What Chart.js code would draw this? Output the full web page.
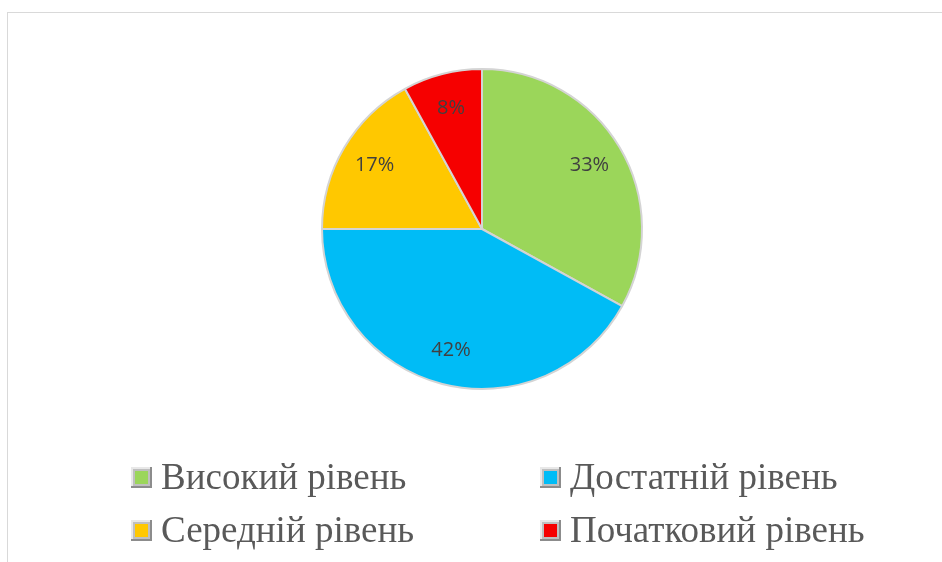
<!DOCTYPE html>
<html>
<head>
<meta charset="utf-8">
<script src="https://cdn.jsdelivr.net/npm/chart.js@4.4.1/dist/chart.umd.min.js"></script>
<style>
  html, body { margin: 0; padding: 0; background: #fff; overflow: hidden; }
  #frame {
    position: absolute; left: 7px; top: 12px; width: 1000px; height: 600px;
    border-left: 1px solid #d9d9d9; border-top: 1px solid #d9d9d9;
  }
  #wrap { position: absolute; left: 0; top: 0; width: 942px; height: 562px; }
</style>
</head>
<body>
<div id="frame"></div>
<div id="wrap"><canvas id="chart"></canvas></div>
<script>
// categories and values
const levels = ['Високий рівень', 'Достатній рівень', 'Середній рівень', 'Початковий рівень'];
const shares = [33, 42, 17, 8];
const sliceColors = ['#9bd65a', '#00bcf6', '#ffc800', '#f60000'];

// percent labels inside the slices
const sliceLabels = {
  id: 'sliceLabels',
  afterDatasetsDraw(chart) {
    const ctx = chart.ctx;
    const meta = chart.getDatasetMeta(0);
    ctx.save();
    ctx.font = '20px "Open Sans"';
    ctx.fillStyle = '#404040';
    ctx.textAlign = 'center';
    ctx.textBaseline = 'middle';
    meta.data.forEach((arc, i) => {
      const p = arc.getProps(['x', 'y', 'startAngle', 'endAngle', 'outerRadius']);
      const mid = (p.startAngle + p.endAngle) / 2;
      const r = p.outerRadius * 0.78;
      ctx.fillText(shares[i] + '%', p.x + Math.cos(mid) * r, p.y + Math.sin(mid) * r);
    });
    ctx.restore();
  },
};

// two column legend under the pie (2 x 2 grid like the original)
const gridLegend = {
  id: 'gridLegend',
  afterDraw(chart) {
    const ctx = chart.ctx;
    const colX = [131, 540];
    const rowY = [489, 542];
    ctx.save();
    ctx.font = '37px "Liberation Serif", "Times New Roman", serif';
    ctx.textBaseline = 'alphabetic';
    ctx.textAlign = 'left';
    levels.forEach((name, i) => {
      const x = colX[i % 2];
      const y = rowY[Math.floor(i / 2)];
      const bx = x, by = y - 22, s = 21;
      // bevelled box
      ctx.fillStyle = '#bfbfbf';
      ctx.fillRect(bx, by, s, s);
      ctx.fillStyle = '#e8e8e8';
      ctx.fillRect(bx, by, s, 2);
      ctx.fillRect(bx, by, 2, s);
      ctx.fillStyle = '#8c8c8c';
      ctx.fillRect(bx, by + s - 2, s, 2);
      ctx.fillRect(bx + s - 2, by, 2, s);
      ctx.fillStyle = sliceColors[i];
      ctx.fillRect(bx + 4, by + 4, s - 8, s - 8);
      ctx.fillStyle = '#595959';
      ctx.fillText(name, x + 30, y);
    });
    ctx.restore();
  },
};

const ctx = document.getElementById('chart').getContext('2d');
new Chart(ctx, {
  type: 'pie',
  data: {
    labels: levels,
    datasets: [
      {
        data: shares,
        backgroundColor: sliceColors,
        borderColor: '#d4d4d4',
        borderWidth: 2,
      },
    ],
  },
  options: {
    responsive: true,
    maintainAspectRatio: false,
    animation: false,
    layout: {
      padding: { top: 68, left: 22, right: 0, bottom: 172 },
    },
    plugins: {
      legend: { display: false },
      tooltip: { enabled: false },
    },
  },
  plugins: [sliceLabels, gridLegend],
});
</script>
</body>
</html>
